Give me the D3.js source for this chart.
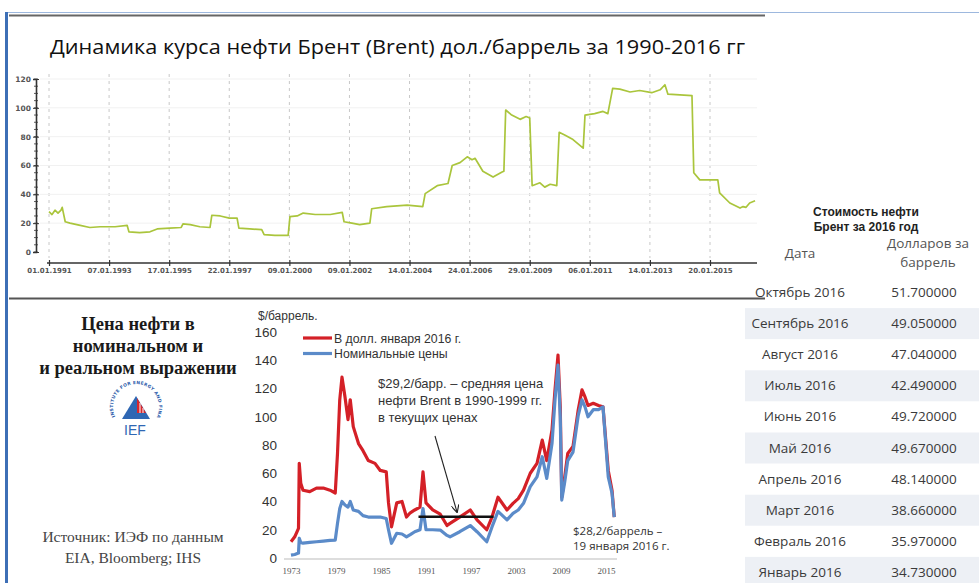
<!DOCTYPE html>
<html>
<head>
<meta charset="utf-8">
<script src="https://cdn.jsdelivr.net/npm/d3@7"></script>
<style>
  body { margin: 0; background: #fff; }
  svg { display: block; }
</style>
</head>
<body>
<div id="chart"></div>
<script>
// ---- top chart: Brent 1991-2016 (x in tick units of the axis) ----
const topTickLabels = ["01.01.1991", "07.01.1993", "17.01.1995", "22.01.1997", "09.01.2000", "09.01.2002",
  "14.01.2004", "24.01.2006", "29.01.2009", "06.01.2011", "14.01.2013", "20.01.2015"];
const brentPos = [0, 0.05, 0.10, 0.15, 0.20, 0.22, 0.27, 0.35, 0.52, 0.68, 0.85, 1.10, 1.30, 1.33, 1.51, 1.68,
  1.80, 2.01, 2.20, 2.23, 2.35, 2.51, 2.68, 2.71, 2.85, 3.00, 3.13, 3.16, 3.34, 3.54, 3.58, 3.76, 3.98, 4.01,
  4.13, 4.23, 4.43, 4.68, 4.88, 4.91, 5.04, 5.17, 5.34, 5.37, 5.62, 5.96, 6.22, 6.26, 6.46, 6.64, 6.71, 6.84,
  6.96, 7.04, 7.09, 7.22, 7.39, 7.54, 7.57, 7.60, 7.70, 7.84, 7.94, 8.00, 8.04, 8.17, 8.25, 8.34, 8.45, 8.49,
  8.59, 8.72, 8.89, 8.92, 9.08, 9.22, 9.30, 9.38, 9.50, 9.67, 9.83, 10.03, 10.17, 10.25, 10.30, 10.50, 10.70,
  10.73, 10.83, 11.13, 11.16, 11.33, 11.50, 11.55, 11.60, 11.66, 11.75];
const brentVal = [28, 26, 29, 27, 29, 31, 21, 20, 18.5, 17, 17.5, 17.5, 18.5, 14, 13.5, 14,
  16, 16.5, 17, 19.5, 19, 17.5, 17, 25.5, 25, 23.5, 23.5, 16.5, 16, 15.5, 12, 11.5, 11.5, 24.5,
  25, 27, 26, 26, 27.5, 21, 20, 19, 20, 30, 31.5, 32.5, 31.5, 40.5, 46, 47.5, 60, 62,
  66, 64, 65, 56, 52, 55.5, 56, 98.5, 95, 92, 94, 93, 46, 48, 45, 47, 46, 83,
  81, 78, 72, 95, 96, 97.5, 96, 113.5, 113, 111, 112, 110.5, 112.5, 116, 109.5, 109, 108.5,
  55, 50, 50, 41, 34, 30.5, 31.5, 31, 34, 35.5];

// ---- bottom chart: nominal and real oil price ----
const years = [1973.0, 1973.5, 1974.0, 1974.1, 1974.3, 1974.6, 1975.5, 1976.4, 1977.3, 1978.2, 1978.9,
  1979.2, 1979.5, 1979.8, 1980.2, 1980.6, 1980.9, 1981.3, 1982.0, 1982.6, 1983.3, 1984.2, 1984.9, 1985.7,
  1986.0, 1986.4, 1987.1, 1987.8, 1988.4, 1988.9, 1989.5, 1990.2, 1990.6, 1991.0, 1991.9, 1992.9, 1993.8,
  1994.2, 1995.5, 1996.9, 1997.8, 1999.1, 1999.8, 2000.6, 2001.8, 2002.6, 2003.3, 2004.0, 2004.9, 2005.8,
  2006.5, 2007.1, 2007.8, 2008.2, 2008.6, 2008.9, 2009.1, 2009.5, 2009.9, 2010.6, 2011.3, 2011.8, 2012.2,
  2012.6, 2013.3, 2014.0, 2014.6, 2015.3, 2015.8, 2016.1];
const realPrice = [11.5, 15, 21, 67, 53, 48, 47, 49.5, 49.5, 48, 46,
  74, 112, 128, 114, 98, 112, 93, 81, 76, 69, 67, 62, 61,
  39, 22, 39, 40, 29, 32, 34, 36, 61, 39, 34, 31, 23,
  24.5, 29, 34, 27, 20, 29, 43, 34, 38.7, 42, 48, 60, 67,
  83.5, 69, 90.6, 119, 143.7, 107, 43, 57.5, 74, 79, 105, 119, 114,
  108, 109.5, 108, 107, 62, 48, 29];
const nominalPrice = [2, 2.5, 3.5, 14, 11, 10.5, 11, 11.5, 12, 12.5, 12.7,
  24.5, 35, 40, 37.5, 36, 40, 34, 33, 30, 29, 29, 29, 28,
  20, 10.4, 17.5, 17, 15, 16.5, 18.6, 20, 35, 20, 20, 19.8, 16,
  15, 18.6, 23, 18.6, 11.5, 22, 33, 27, 31.6, 34, 38.7, 50.5, 57.5,
  71.7, 56.4, 81, 112, 136.6, 100, 41, 54, 69, 75, 101, 112, 107,
  100, 105, 105, 107, 57.5, 46, 29];
const botYears = [1973, 1979, 1985, 1991, 1997, 2003, 2009, 2015];
const avgLine = [1990, 2000, 29.2];

// ---- table: Brent 2016 ----
const months = ["Октябрь 2016", "Сентябрь 2016", "Август 2016", "Июль 2016", "Июнь 2016",
  "Май 2016", "Апрель 2016", "Март 2016", "Февраль 2016", "Январь 2016"];
const monthPrices = ["51.700000", "49.050000", "47.040000", "42.490000", "49.720000",
  "49.670000", "48.140000", "38.660000", "35.970000", "34.730000"];

const W = 979, H = 583;
const svg = d3.select("#chart").append("svg").attr("width", W).attr("height", H);

// frame
svg.append("rect").attr("x", 0).attr("y", 0).attr("width", W).attr("height", H).attr("fill", "#fff");
svg.append("line").attr("x1", 8).attr("x2", W).attr("y1", 12.5).attr("y2", 12.5)
  .attr("stroke", "#9db8de").attr("stroke-width", 1);
svg.append("rect").attr("x", 5).attr("y", 12).attr("width", 3).attr("height", H - 12).attr("fill", "#3d6fb6");
svg.append("line").attr("x1", 9).attr("x2", 765).attr("y1", 15.5).attr("y2", 15.5)
  .attr("stroke", "#666").attr("stroke-width", 2);
svg.append("line").attr("x1", 9).attr("x2", 765).attr("y1", 298.5).attr("y2", 298.5)
  .attr("stroke", "#555").attr("stroke-width", 2);

// ---------- top chart ----------
svg.append("text").attr("x", 50).attr("y", 54)
  .attr("font-family", "'Open Sans', sans-serif").attr("font-size", 20).attr("fill", "#111")
  .attr("textLength", 695).attr("lengthAdjust", "spacingAndGlyphs")
  .text("Динамика курса нефти Брент (Brent) дол./баррель за 1990-2016 гг");

const xTop = d3.scaleLinear().domain([0, topTickLabels.length - 1]).range([49, 710]);
const yTop = d3.scaleLinear().domain([0, 120]).range([252, 79]);

const topG = svg.append("g");
// grid
topG.selectAll(".vgrid").data(topTickLabels).join("line")
  .attr("x1", (d, i) => xTop(i)).attr("x2", (d, i) => xTop(i))
  .attr("y1", 74).attr("y2", 258)
  .attr("stroke", "#c8c8c8").attr("stroke-dasharray", "3,4").attr("stroke-width", 1);
topG.selectAll(".hgrid").data(d3.range(20, 121, 20)).join("line")
  .attr("x1", 40).attr("x2", 757).attr("y1", d => yTop(d)).attr("y2", d => yTop(d))
  .attr("stroke", "#f1f1f1").attr("stroke-width", 1);

// y axis
const yAxTop = topG.append("g").attr("transform", "translate(36,0)")
  .call(d3.axisLeft(yTop).tickValues(d3.range(0, 121, 20)).tickSize(3).tickPadding(2));
yAxTop.select(".domain").attr("stroke", "#333").attr("stroke-width", 1.6);
yAxTop.selectAll(".tick line").attr("stroke", "#333").attr("x2", 3).attr("x1", -3);
yAxTop.selectAll("text").attr("font-family", "'DejaVu Sans', sans-serif").attr("font-size", 7.5)
  .attr("font-weight", "bold").attr("fill", "#555");
topG.selectAll(".ymin").data(d3.range(0, 121, 5)).join("line")
  .attr("x1", 34).attr("x2", 38).attr("y1", d => yTop(d)).attr("y2", d => yTop(d))
  .attr("stroke", "#333").attr("stroke-width", 0.8);

// x axis
topG.append("line").attr("x1", 47).attr("x2", 757).attr("y1", 263).attr("y2", 263)
  .attr("stroke", "#333").attr("stroke-width", 1.6);
const xAxTop = topG.append("g").attr("transform", "translate(0,263)")
  .call(d3.axisBottom(xTop).tickValues(d3.range(topTickLabels.length))
    .tickFormat(i => topTickLabels[i]).tickSize(-4).tickPadding(5));
xAxTop.select(".domain").remove();
xAxTop.selectAll(".tick line").attr("stroke", "#333").attr("stroke-width", 1.2).attr("y2", 3).attr("y1", -3);
xAxTop.selectAll("text").attr("font-family", "'DejaVu Sans', sans-serif").attr("font-size", 7)
  .attr("font-weight", "bold").attr("fill", "#555");

// line
const brent = brentPos.map((p, i) => [p, brentVal[i]]);
topG.append("path").datum(brent)
  .attr("d", d3.line().x(d => xTop(d[0])).y(d => yTop(d[1])))
  .attr("fill", "none").attr("stroke", "#aac53c").attr("stroke-width", 1.7)
  .attr("stroke-linejoin", "round");

// ---------- bottom-left caption ----------
const cap = svg.append("g").attr("font-family", "'Liberation Serif', serif").attr("text-anchor", "middle");
cap.selectAll(".h").data(["Цена нефти в", "номинальном и", "и реальном выражении"]).join("text")
  .attr("x", 138).attr("y", (d, i) => 330 + i * 22).attr("font-size", 18.5).attr("font-weight", "bold")
  .attr("fill", "#1a1a1a").text(d => d);
cap.selectAll(".s").data(["Источник: ИЭФ по данным", "EIA, Bloomberg; IHS"]).join("text")
  .attr("x", 133).attr("y", (d, i) => 542 + i * 21).attr("font-size", 15.5)
  .attr("fill", "#444").text(d => d);

// IEF logo
const logo = svg.append("g").attr("transform", "translate(136,407)");
const rr = 23;
const a0 = 150 * Math.PI / 180, a1 = 30 * Math.PI / 180;
logo.append("path").attr("id", "ringPath")
  .attr("d", `M${rr * Math.cos(a0)},${rr * Math.sin(a0)} A${rr},${rr} 0 1 1 ${rr * Math.cos(a1)},${rr * Math.sin(a1)}`)
  .attr("fill", "none");
logo.append("text").attr("font-family", "'DejaVu Sans', sans-serif").attr("font-size", 4.4)
  .attr("font-weight", "bold").attr("fill", "#2c5caa").attr("letter-spacing", 0.3)
  .append("textPath").attr("href", "#ringPath").attr("startOffset", "2%")
  .text("INSTITUTE FOR ENERGY AND FINANCE");
logo.append("polygon").attr("points", "0,-11 -14,12 14,12").attr("fill", "#2f67b3");
logo.append("polygon").attr("points", "1,-9 10,6 1,6").attr("fill", "#d9262b");
logo.append("line").attr("x1", 4).attr("y1", -4).attr("x2", 4).attr("y2", 6).attr("stroke", "#fff").attr("stroke-width", 1);
logo.append("line").attr("x1", 7).attr("y1", 1).attr("x2", 7).attr("y2", 6).attr("stroke", "#fff").attr("stroke-width", 1);
logo.append("text").attr("x", -1).attr("y", 28).attr("text-anchor", "middle")
  .attr("font-family", "'Liberation Sans', sans-serif").attr("font-size", 14).attr("fill", "#2f67b3")
  .text("IEF");

// ---------- bottom chart ----------
const xBot = d3.scaleLinear().domain([1973, 2015]).range([291, 606]);
const yBot = d3.scaleLinear().domain([0, 160]).range([558, 332]);
const bot = svg.append("g");

bot.append("text").attr("x", 258).attr("y", 320).attr("font-family", "'Liberation Sans', sans-serif")
  .attr("font-size", 12).attr("fill", "#333").text("$/баррель.");

const yAxBot = bot.append("g").attr("transform", "translate(279,0)")
  .call(d3.axisLeft(yBot).tickValues(d3.range(0, 161, 20)).tickSize(0).tickPadding(2));
yAxBot.select(".domain").remove();
yAxBot.selectAll("text").attr("font-family", "'Liberation Sans', sans-serif").attr("font-size", 13.5)
  .attr("fill", "#333");

bot.append("line").attr("x1", 284).attr("x2", 617).attr("y1", 559).attr("y2", 559)
  .attr("stroke", "#bbb").attr("stroke-width", 1);
const xAxBot = bot.append("g").attr("transform", "translate(0,559)")
  .call(d3.axisBottom(xBot).tickValues(botYears).tickFormat(d3.format("d")).tickSize(0).tickPadding(9));
xAxBot.select(".domain").remove();
xAxBot.selectAll("text").attr("font-family", "'Liberation Serif', serif").attr("font-size", 9)
  .attr("fill", "#555");

const lineBot = vals => d3.line().x((d, i) => xBot(years[i])).y(d => yBot(d))(vals);
bot.append("path").attr("d", lineBot(realPrice)).attr("fill", "none")
  .attr("stroke", "#d42027").attr("stroke-width", 3.2).attr("stroke-linejoin", "round");
bot.append("path").attr("d", lineBot(nominalPrice)).attr("fill", "none")
  .attr("stroke", "#5b8bc9").attr("stroke-width", 3.2).attr("stroke-linejoin", "round");

// 1990-1999 average
bot.append("line").attr("x1", xBot(avgLine[0])).attr("x2", xBot(avgLine[1]))
  .attr("y1", yBot(avgLine[2])).attr("y2", yBot(avgLine[2]))
  .attr("stroke", "#111").attr("stroke-width", 2.6);

// legend
const leg = [["В долл. января 2016 г.", "#d42027"], ["Номинальные цены", "#5b8bc9"]];
leg.forEach((d, i) => {
  bot.append("line").attr("x1", 303).attr("x2", 332).attr("y1", 338 + i * 15.5).attr("y2", 338 + i * 15.5)
    .attr("stroke", d[1]).attr("stroke-width", 3.2);
  bot.append("text").attr("x", 334).attr("y", 342.5 + i * 15.5).attr("font-family", "'Liberation Sans', sans-serif")
    .attr("font-size", 12.3).attr("fill", "#333").text(d[0]);
});

// annotation
bot.selectAll(".ann").data(["$29,2/барр. – средняя цена", "нефти Brent  в 1990-1999 гг.", "в текущих ценах"])
  .join("text").attr("x", 378).attr("y", (d, i) => 388 + i * 17)
  .attr("font-family", "'Liberation Sans', sans-serif").attr("font-size", 13).attr("fill", "#333")
  .text(d => d);
svg.append("defs").append("marker").attr("id", "arr").attr("viewBox", "0 0 10 10")
  .attr("refX", 9).attr("refY", 5).attr("markerWidth", 7).attr("markerHeight", 7).attr("orient", "auto")
  .append("path").attr("d", "M0,0 L10,5 L0,10").attr("fill", "none").attr("stroke", "#222").attr("stroke-width", 1.5);
bot.append("line").attr("x1", 435).attr("y1", 436).attr("x2", 457).attr("y2", 512)
  .attr("stroke", "#222").attr("stroke-width", 1.1).attr("marker-end", "url(#arr)");
bot.selectAll(".ann2").data(["$28,2/баррель –", "19 января 2016 г."]).join("text")
  .attr("x", 573).attr("y", (d, i) => 535 + i * 15)
  .attr("font-family", "'Open Sans', sans-serif").attr("font-size", 11.5).attr("fill", "#333")
  .text(d => d);

// ---------- table ----------
const tab = svg.append("g");
const rowY = i => 292 + i * 31.1;
tab.selectAll(".band").data(months).join("rect")
  .attr("x", 745).attr("width", W - 745).attr("y", (d, i) => rowY(i) - 15).attr("height", 31)
  .attr("fill", (d, i) => i % 2 === 1 ? "#edf0f5" : "none");
tab.selectAll(".ttl").data(["Стоимость нефти", "Брент за 2016 год"]).join("text")
  .attr("x", 866).attr("y", (d, i) => 216 + i * 15).attr("text-anchor", "middle")
  .attr("font-family", "'Liberation Sans', sans-serif").attr("font-size", 12).attr("font-weight", "bold")
  .attr("fill", "#222").text(d => d);
const tf = "'Open Sans', sans-serif";
tab.append("text").attr("x", 800).attr("y", 258).attr("text-anchor", "middle")
  .attr("font-family", tf).attr("font-size", 13.5).attr("fill", "#555").text("Дата");
tab.selectAll(".hdr").data(["Долларов за", "баррель"]).join("text")
  .attr("x", 928).attr("y", (d, i) => 248 + i * 19).attr("text-anchor", "middle")
  .attr("font-family", tf).attr("font-size", 13.5).attr("fill", "#555").text(d => d);
tab.selectAll(".m").data(months).join("text")
  .attr("x", 800).attr("y", (d, i) => rowY(i) + 5).attr("text-anchor", "middle")
  .attr("font-family", tf).attr("font-size", 13.5).attr("fill", "#3a3a3a").text(d => d);
tab.selectAll(".p").data(monthPrices).join("text")
  .attr("x", 924).attr("y", (d, i) => rowY(i) + 5).attr("text-anchor", "middle")
  .attr("font-family", tf).attr("font-size", 13.5).attr("fill", "#3a3a3a").text(d => d);
</script>
</body>
</html>
